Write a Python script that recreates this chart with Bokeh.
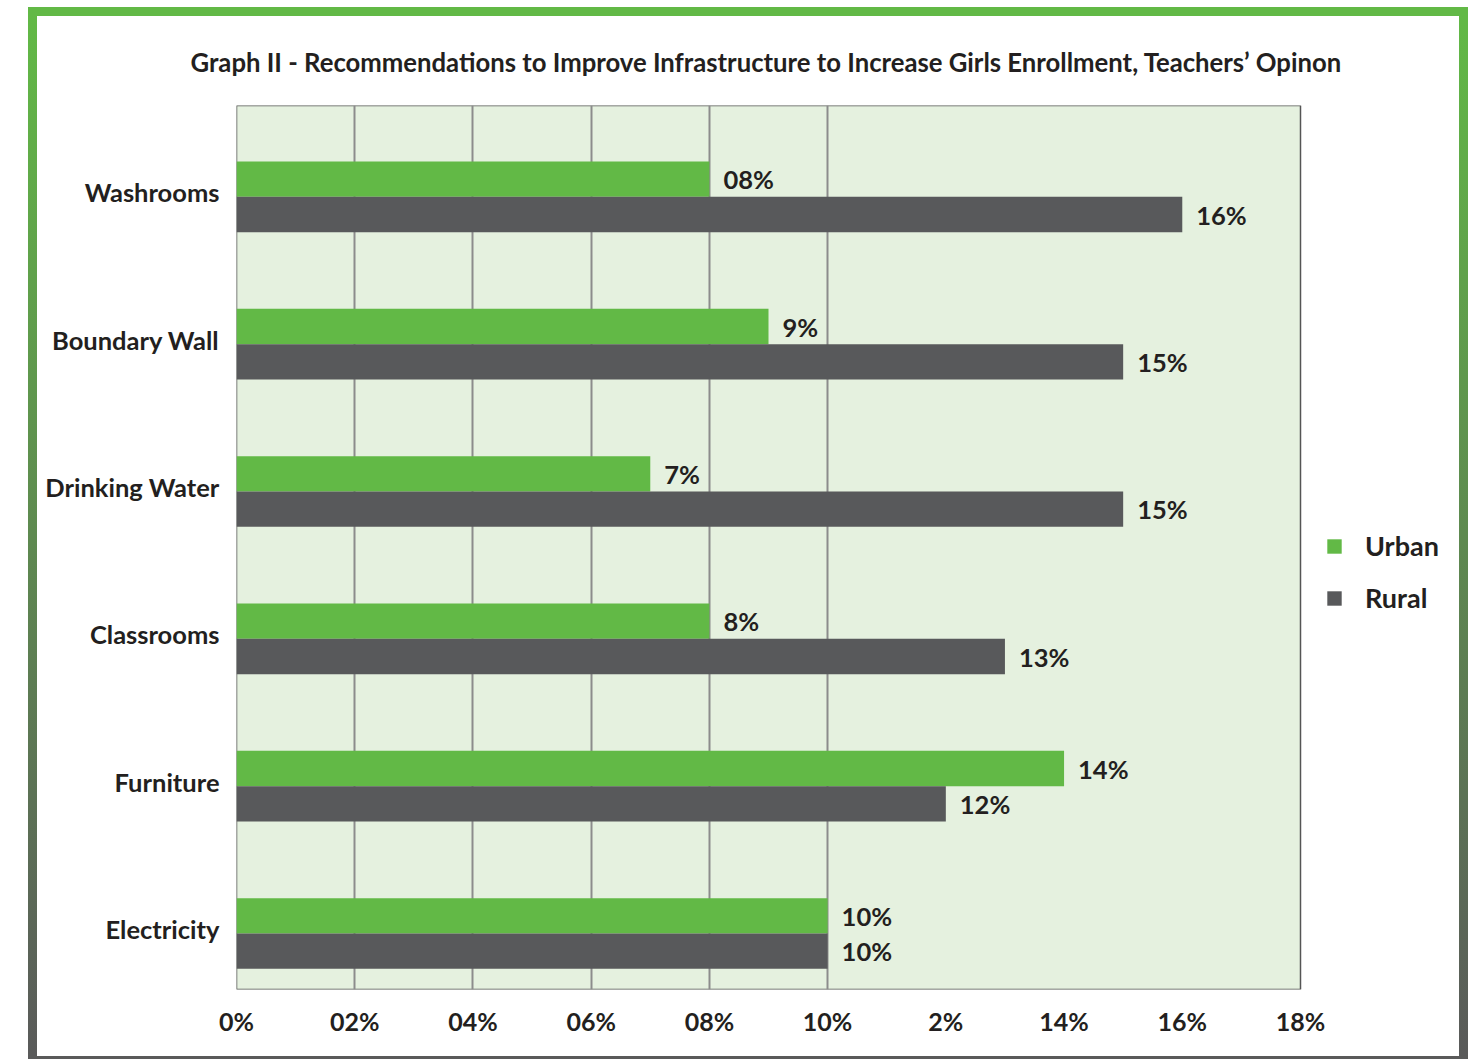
from bokeh.plotting import figure
from bokeh.models import Range1d, FixedTicker, Legend, LegendItem, ColumnDataSource
from bokeh.core.properties import value
from bokeh.embed import file_html
from bokeh.resources import INLINE

categories = ["Washrooms", "Boundary Wall", "Drinking Water", "Classrooms", "Furniture", "Electricity"]
urban = [8, 9, 7, 8, 14, 10]
rural = [16, 15, 15, 13, 12, 10]
urban_labels = ["08%", "9%", "7%", "8%", "14%", "10%"]
rural_labels = ["16%", "15%", "15%", "13%", "12%", "10%"]
x_ticks = [0, 2, 4, 6, 8, 10, 12, 14, 16, 18]
x_tick_labels = ["0%", "02%", "04%", "06%", "08%", "10%", "2%", "14%", "16%", "18%"]

GREEN = "#62b946"
GRAY = "#58595b"
FONT = "Lato"
TXT = "#231f20"

n = len(categories)
idx = list(range(n))
urban_y = [n - 0.5 - i for i in idx]
rural_y = [n - 0.74 - i for i in idx]
label_y = [n - 0.59 - i for i in idx]
bar_h = 0.24

# layout (pixels): plot box spans 0..18 over 1064 px, canvas continues 159 px to the right for the legend
W, H = 1440, 1052
LEFT, RIGHT_OVER, TOP, BOTTOM = 199, 18, 88, 79
box_px = 1064
extra_px = 159
x_max = x_ticks[-1]
x_end = x_max + extra_px * x_max / box_px

p = figure(width=W, height=H, output_backend="svg", toolbar_location=None,
           x_range=Range1d(0, x_end), y_range=Range1d(0, n),
           min_border_left=LEFT, min_border_right=RIGHT_OVER,
           min_border_top=TOP, min_border_bottom=BOTTOM)

p.title.text = "Graph II - Recommendations to Improve Infrastructure to Increase Girls Enrollment, Teachers\u2019 Opinon"
p.title.align = "left"
p.title.offset = -46
p.title.text_font = FONT
p.title.text_font_style = "bold"
p.title.text_font_size = "25.7px"
p.title.text_color = TXT
p.title.standoff = 57

p.background_fill_color = "white"
p.border_fill_color = "white"
p.outline_line_color = None

# the light green plot box, spanning the axis range 0..18 and all categories
p.quad(left=[x_ticks[0]], right=[x_max], bottom=[0], top=[n],
       fill_color="#e5f1df", line_color="#555555", line_width=1.5, level="image")

src_u = ColumnDataSource(dict(y=urban_y, right=urban, lab=urban_labels))
src_r = ColumnDataSource(dict(y=rural_y, right=rural, lab=rural_labels))

ru = p.hbar(y="y", right="right", left=0, height=bar_h, source=src_u,
            fill_color=GREEN, line_color=None)
rr = p.hbar(y="y", right="right", left=0, height=bar_h, source=src_r,
            fill_color=GRAY, line_color=None)

for src in (src_u, src_r):
    p.text(x="right", y="y", text="lab", source=src, x_offset=14,
           text_font=value(FONT), text_font_style="bold", text_font_size="25.5px",
           text_color=TXT, text_baseline="middle", text_align="left")

# grid
p.xgrid.ticker = FixedTicker(ticks=[2, 4, 6, 8, 10])
p.xgrid.grid_line_color = "#8c8c8c"
p.xgrid.grid_line_width = 2
p.ygrid.grid_line_color = None

# x axis
p.xaxis.ticker = FixedTicker(ticks=x_ticks)
p.xaxis.major_label_overrides = {t: l for t, l in zip(x_ticks, x_tick_labels)}
p.xaxis.axis_line_color = None
p.xaxis.major_tick_line_color = None
p.xaxis.minor_tick_line_color = None
p.xaxis.major_label_text_font = FONT
p.xaxis.major_label_text_font_style = "bold"
p.xaxis.major_label_text_font_size = "25px"
p.xaxis.major_label_text_color = TXT
p.xaxis.major_label_standoff = 10

# y axis
p.yaxis.ticker = FixedTicker(ticks=label_y)
p.yaxis.major_label_overrides = {t: c for t, c in zip(label_y, categories)}
p.yaxis.axis_line_color = None
p.yaxis.major_tick_line_color = None
p.yaxis.minor_tick_line_color = None
p.yaxis.major_label_text_font = FONT
p.yaxis.major_label_text_font_style = "bold"
p.yaxis.major_label_text_font_size = "25.5px"
p.yaxis.major_label_text_color = TXT
p.yaxis.major_label_standoff = 11

legend = Legend(items=[LegendItem(label="Urban", renderers=[ru]),
                       LegendItem(label="Rural", renderers=[rr])],
                location=(1089, 375), orientation="vertical",
                glyph_width=18, glyph_height=18, label_standoff=22,
                spacing=19, padding=0, margin=0, border_line_color=None,
                background_fill_alpha=0,
                label_text_font=FONT, label_text_font_style="bold",
                label_text_font_size="27px", label_text_color=TXT)
p.add_layout(legend, "center")

p.margin = (7, 0, 0, 28)
p.styles = {
    "border-style": "solid",
    "border-width": "9px 9px 3px 9px",
    "border-image": "linear-gradient(to bottom, #62b946, #5a5a5a) 1",
    "background": "white",
}

open("out.html", "w").write(file_html(p, INLINE))
